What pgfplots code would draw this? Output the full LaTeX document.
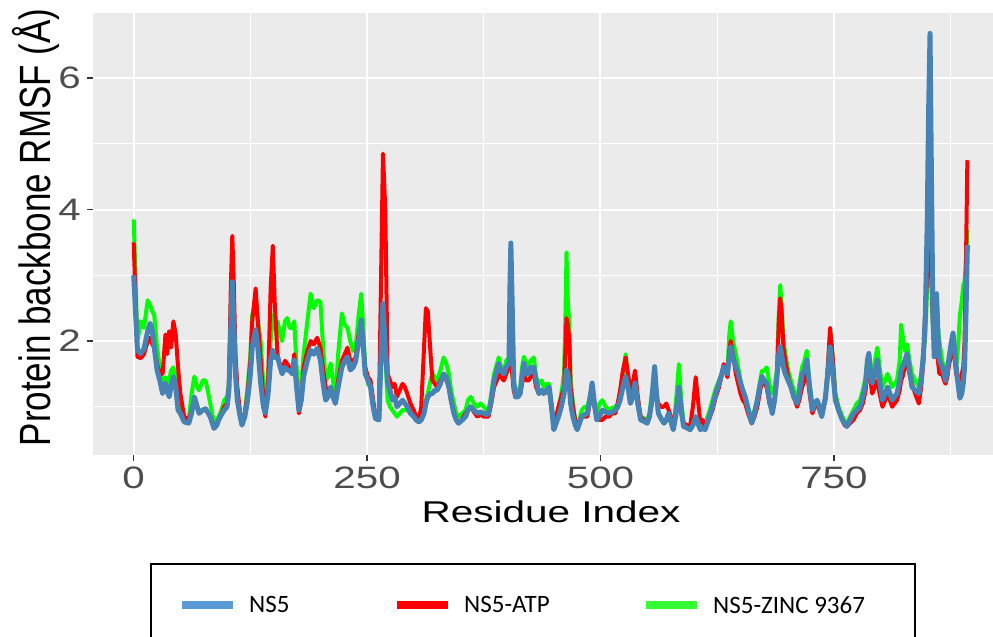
\documentclass[border=0pt]{standalone}
\usepackage{pgfplots}
\pgfplotsset{compat=1.18}
\usepackage{pgfplotstable}
\usepackage{graphicx}
\usepackage{fontspec}
\setmainfont{Liberation Sans}
\newfontfamily\legfont{Carlito}
\definecolor{panelgray}{HTML}{EBEBEB}
\definecolor{tickgray}{HTML}{4D4D4D}
\definecolor{tickmark}{HTML}{333333}
\definecolor{ns5blue}{HTML}{4682B4}
\definecolor{ns5legblue}{HTML}{5B9BD5}
\definecolor{atpred}{HTML}{FF0000}
\definecolor{zincgreen}{HTML}{00FF00}
\definecolor{zinclegreen}{HTML}{33FF33}

\pgfplotstableread{
x b r g
0 3.00 3.50 3.85
4 1.86 1.76 2.00
7.5 1.81 1.74 2.30
11 1.88 1.80 2.20
15 2.15 2.00 2.62
17.5 2.27 2.05 2.55
20 2.15 1.95 2.45
22 1.91 1.90 2.40
25 1.56 1.65 1.90
28 1.40 1.50 1.60
31 1.20 1.50 1.25
34 1.36 2.10 1.45
36 1.25 1.80 1.35
38 1.15 2.15 1.40
40 1.30 1.90 1.55
42.5 1.46 2.30 1.60
45 1.30 2.10 1.45
47.5 0.95 1.60 1.10
50 0.90 1.20 0.95
54 0.77 0.85 0.85
59 0.75 0.80 0.80
62 0.90 0.95 1.20
65 1.15 1.10 1.46
68 1.00 1.00 1.30
70 0.90 0.90 1.25
74 0.95 0.95 1.40
77 0.97 0.95 1.40
80 0.90 0.90 1.20
82 0.85 0.85 1.05
86 0.67 0.70 0.75
89 0.72 0.72 0.80
91 0.80 0.80 0.85
94 0.88 0.90 0.95
97 0.95 1.00 1.10
100 1.00 1.05 1.15
102 1.25 1.30 1.35
104 2.20 2.80 2.50
105.6 2.90 3.60 3.00
107 2.40 3.00 2.60
109 1.50 1.80 1.60
111 1.10 1.30 1.20
114 0.85 0.90 0.90
116 0.72 0.75 0.75
119 0.85 0.90 0.90
122 1.10 1.20 1.30
125 1.50 1.70 1.80
127 1.91 2.30 2.40
130.6 2.17 2.80 2.60
133 1.90 2.30 2.30
136 1.36 1.70 2.00
139 1.00 1.10 1.30
141 0.90 0.85 1.00
144 1.20 1.40 1.50
146.7 1.71 2.80 2.00
149 1.86 3.45 2.40
151 1.75 2.60 2.20
154 1.76 1.80 2.30
157 1.60 1.60 2.10
159 1.50 1.55 2.00
162 1.60 1.70 2.30
164.5 1.56 1.65 2.35
167 1.55 1.60 2.20
170 1.50 1.55 2.20
172 1.71 1.80 2.30
174.5 1.30 1.35 1.60
177 0.95 0.90 1.00
179.5 1.10 1.10 1.30
182 1.46 1.60 1.80
186 1.70 1.85 2.30
189.5 1.86 2.00 2.72
193 1.80 1.95 2.50
196.6 1.89 2.05 2.62
200 1.71 1.90 2.60
202.5 1.40 1.60 2.00
205.6 1.10 1.30 1.40
208 1.15 1.20 1.45
211 1.30 1.20 1.66
213.5 1.15 1.15 1.40
216 1.05 1.10 1.10
219 1.30 1.40 1.80
223 1.60 1.70 2.42
226 1.70 1.80 2.25
229 1.76 1.90 2.20
232 1.56 1.70 2.00
235 1.60 1.70 1.85
237.7 1.69 1.75 1.90
241 2.00 2.10 2.40
243.7 2.32 2.30 2.72
246 1.90 1.90 2.20
248 1.50 1.60 1.60
251 1.40 1.45 1.35
253.7 1.30 1.40 1.30
256.5 1.00 1.10 1.00
259 0.82 0.85 0.85
262.7 0.80 0.90 0.80
265 1.80 3.00 2.00
267 2.57 4.85 2.40
269.5 1.90 4.00 1.80
272 1.36 1.50 1.10
274.5 1.25 1.40 1.00
277 1.10 1.30 0.95
279.5 1.15 1.35 0.90
282 1.00 1.15 0.85
285 1.05 1.25 0.90
288 1.10 1.35 0.95
290.5 1.05 1.30 0.95
293 1.00 1.20 0.95
296.5 0.90 1.05 0.90
300 0.85 0.95 0.85
302.5 0.80 0.85 0.82
305.5 0.77 0.80 0.80
308 0.80 1.00 0.85
311 0.90 1.90 1.00
313 1.05 2.50 1.10
315 1.15 2.45 1.20
318 1.20 1.80 1.40
320 1.20 1.40 1.50
322.5 1.25 1.35 1.45
325 1.25 1.30 1.40
328.5 1.35 1.40 1.55
332 1.50 1.50 1.75
335 1.45 1.40 1.65
337.6 1.30 1.30 1.50
340 1.10 1.10 1.25
343 0.90 0.90 1.05
345.5 0.80 0.80 0.90
348 0.75 0.75 0.85
352 0.80 0.82 0.90
355.5 0.85 0.90 0.95
358 0.95 0.95 1.10
361 1.00 1.00 1.15
364.5 0.95 0.92 1.05
368 0.90 0.85 1.00
371.5 0.92 0.88 1.05
375 0.90 0.85 1.00
378 0.88 0.85 0.95
380 0.90 0.85 0.90
383 1.10 1.05 1.20
386 1.40 1.30 1.50
389 1.55 1.40 1.65
391 1.66 1.50 1.75
393.5 1.55 1.45 1.60
396.5 1.50 1.40 1.55
399 1.60 1.50 1.70
402 1.66 1.60 1.75
403 2.80 2.00 1.80
404 3.49 1.90 1.75
405.5 2.50 1.50 1.50
407 1.40 1.25 1.30
409 1.15 1.15 1.20
411.5 1.15 1.15 1.25
414 1.20 1.20 1.30
416 1.45 1.35 1.60
418 1.66 1.50 1.76
420.5 1.50 1.40 1.65
423 1.50 1.40 1.60
425 1.60 1.45 1.70
428.6 1.60 1.50 1.75
431 1.40 1.30 1.45
434 1.20 1.20 1.35
437 1.25 1.25 1.40
439 1.20 1.20 1.30
442 1.25 1.22 1.35
445 1.30 1.25 1.35
447.5 1.00 1.00 1.05
450 0.65 0.70 0.75
452.5 0.75 0.85 0.85
455 0.85 1.00 0.95
458 1.00 1.15 1.20
461 1.20 1.30 1.50
462.5 1.45 1.90 2.40
463.6 1.56 2.35 3.35
465 1.50 2.25 2.60
466.5 1.35 2.05 2.30
468 1.05 1.30 1.40
470.5 0.85 1.00 1.05
473 0.72 0.80 0.75
475 0.65 0.70 0.65
477.5 0.75 0.78 0.80
480 0.85 0.85 0.95
483 0.88 0.85 1.00
486 0.90 0.85 1.00
488.5 1.10 1.05 1.15
491 1.36 1.20 1.30
493.5 1.05 1.00 1.05
496 0.80 0.85 0.90
499 0.85 0.80 1.05
502 0.95 0.80 1.10
505.5 0.92 0.85 1.00
509 0.90 0.85 0.95
512.5 0.92 0.90 0.98
516 0.95 0.90 1.00
518.5 1.00 1.05 1.05
521 1.10 1.25 1.20
524 1.30 1.55 1.50
527 1.46 1.75 1.80
529.5 1.30 1.50 1.45
532 1.05 1.25 1.15
534.5 1.15 1.35 1.20
537 1.36 1.55 1.30
540 1.05 1.15 1.00
543 0.80 0.85 0.85
546.5 0.78 0.80 0.82
550 0.75 0.75 0.80
552.5 0.85 0.85 0.90
555 1.10 1.05 1.20
558 1.61 1.40 1.50
560 1.20 1.15 1.10
562 0.90 1.05 0.90
565 0.82 1.00 0.80
568 0.75 1.00 0.75
570.5 0.80 1.05 0.80
573 0.90 0.95 0.85
575.5 0.78 0.85 0.75
578 0.65 0.70 0.65
581 0.90 0.95 1.10
584 1.30 1.20 1.65
586.5 0.95 0.90 1.10
589 0.70 0.75 0.75
592.5 0.68 0.72 0.72
596 0.65 0.70 0.70
599 0.72 1.00 0.75
602 0.85 1.45 0.80
604.5 0.75 1.10 0.72
607 0.65 0.75 0.65
609.5 0.68 0.80 0.70
612 0.65 0.70 0.75
616 0.82 0.80 0.90
620 1.00 0.95 1.10
623.5 1.20 1.15 1.28
627 1.36 1.30 1.40
630 1.50 1.50 1.50
632 1.61 1.65 1.60
634 1.55 1.55 1.55
636 1.50 1.45 1.55
638 1.75 1.85 2.10
639.5 1.91 2.00 2.30
642 1.75 1.80 2.00
645 1.61 1.50 1.80
647.5 1.50 1.35 1.60
650 1.36 1.20 1.40
652.5 1.25 1.10 1.25
655 1.15 1.05 1.15
658.5 0.95 0.88 0.95
662 0.75 0.75 0.80
665 0.90 0.85 0.95
668 1.10 1.00 1.10
670.5 1.30 1.20 1.35
673 1.46 1.40 1.55
675.5 1.40 1.35 1.55
678 1.36 1.30 1.60
681 1.10 1.05 1.35
684 0.90 0.95 1.20
686.5 1.10 1.10 1.30
689 1.46 1.40 1.55
691 1.80 2.30 2.40
692.5 1.91 2.65 2.85
694 1.80 2.45 2.55
696 1.60 1.90 2.00
698 1.50 1.70 1.80
701 1.40 1.45 1.55
704 1.30 1.30 1.40
707 1.15 1.15 1.25
710.6 1.05 1.00 1.10
713 1.20 1.10 1.35
716 1.50 1.30 1.60
718.5 1.55 1.40 1.70
721 1.71 1.55 1.85
724 1.30 1.20 1.35
727 0.95 0.90 1.00
729.5 1.05 1.00 1.05
732 1.10 1.05 1.05
734.5 1.00 0.95 0.95
737 0.85 0.85 0.85
739 1.00 1.00 1.00
741 1.15 1.10 1.15
743.5 1.50 1.60 1.60
746 1.91 2.20 2.15
748.5 1.60 1.80 1.80
751.6 1.10 1.15 1.20
755 0.95 0.95 1.00
759 0.80 0.80 0.85
761.5 0.75 0.72 0.78
764 0.70 0.70 0.75
767.5 0.80 0.75 0.85
771 0.90 0.80 0.95
774.5 0.95 0.90 1.05
778 1.00 0.95 1.10
781 1.15 1.05 1.25
784 1.36 1.25 1.45
786 1.70 1.55 1.75
787.5 1.81 1.60 1.80
789 1.55 1.45 1.60
791 1.36 1.20 1.50
794 1.50 1.30 1.70
796.6 1.71 1.40 1.90
799 1.40 1.20 1.60
802 1.10 1.00 1.30
805 1.20 1.10 1.40
807.5 1.30 1.20 1.50
810 1.20 1.10 1.40
812.5 1.10 1.00 1.30
815 1.15 1.05 1.35
817.6 1.20 1.10 1.40
820.5 1.40 1.25 1.70
822 1.55 1.40 2.25
823.5 1.61 1.45 2.10
826 1.70 1.60 1.85
828.5 1.81 1.70 1.95
831 1.55 1.50 1.70
833.7 1.30 1.35 1.50
837 1.25 1.20 1.40
841 1.20 1.05 1.30
843.5 1.40 1.30 1.50
846 1.81 1.70 1.80
848 2.40 2.50 2.10
850 3.80 3.00 2.80
851.5 5.50 3.40 3.50
853 6.68 3.60 3.90
854.5 4.50 3.00 3.00
856 2.50 2.30 2.20
857.5 1.76 2.00 2.00
859 2.30 1.90 2.30
860 2.72 2.00 2.60
861.5 2.10 1.70 2.20
863 1.71 1.50 2.00
866 1.61 1.50 1.70
868 1.50 1.40 1.60
869.6 1.40 1.35 1.50
871.5 1.55 1.45 1.60
873 1.71 1.60 1.70
875.5 1.95 1.80 1.90
877.6 2.12 1.90 2.00
879.5 1.85 1.70 1.80
881 1.61 1.50 1.60
883 1.35 1.40 1.90
885 1.13 1.40 2.40
887 1.20 1.50 2.60
888.6 1.36 1.60 2.85
890 1.60 2.00 2.90
891.5 2.40 3.20 3.20
893 3.46 4.75 3.70
}\rmsf

\begin{document}
\begin{tikzpicture}
\useasboundingbox (0,0) rectangle (993pt,-637pt);
\clip (0,0) rectangle (993pt,-637pt);
\begin{axis}[
  at={(93pt,-13pt)}, anchor=north west,
  scale only axis, width=916pt, height=442pt,
  xmin=-43.6, xmax=937.6, ymin=0.266, ymax=6.99,
  axis background/.style={fill=panelgray},
  axis line style={draw=none},
  xtick pos=bottom, ytick pos=left,
  xtick={0,250,500,750},
  xticklabels={{\scalebox{1.3}[1]{0}},{\scalebox{1.3}[1]{250}},{\scalebox{1.3}[1]{500}},{\scalebox{1.3}[1]{750}}},
  ytick={2,4,6},
  yticklabels={{\scalebox{1.3}[1]{2}},{\scalebox{1.3}[1]{4}},{\scalebox{1.3}[1]{6}}},
  minor xtick={125,375,625,875}, minor ytick={1,3,5},
  grid=both,
  major grid style={white, line width=2pt},
  minor grid style={white, line width=1pt},
  tick align=outside, major tick length=6pt, minor tick length=0pt,
  tick style={tickmark, line width=1.5pt},
  ticklabel style={font=\fontsize{31}{31}\selectfont, text=tickgray, inner sep=0pt},
  xticklabel style={yshift=-6pt},
  yticklabel style={xshift=-6pt},
  xlabel={\scalebox{1.35}[1]{Residue Index}},
  xlabel style={font=\fontsize{30}{30}\selectfont, at={(axis description cs:0.5,-0.1538)}, anchor=base, inner sep=0pt},
  ylabel={\scalebox{1}[1.25]{Protein backbone RMSF (Å)}},
  ylabel style={font=\fontsize{35}{35}\selectfont, at={(axis description cs:-0.0469,0.515)}, anchor=base, inner sep=0pt},
  legend columns=3,
  legend cell align=left,
  legend image code/.code={\draw[#1] (0pt,0pt) -- (51pt,0pt);},
  legend style={at={(axis description cs:0.0622,-0.2443)}, anchor=north west,
    draw=black, line width=2.5pt, fill=white, inner xsep=27pt, inner ysep=32pt,
    font=\legfont\fontsize{25}{25}\selectfont, nodes={inner sep=0pt},
    /tikz/every odd column/.append style={column sep=12pt}},
]
\addplot[zincgreen, line width=4pt, line join=round, mark=none, forget plot] table[x=x, y=g] {\rmsf};
\addplot[atpred, line width=4pt, line join=round, mark=none, forget plot] table[x=x, y=r] {\rmsf};
\addplot[ns5blue, line width=5pt, line join=round, mark=none, forget plot] table[x=x, y=b] {\rmsf};
\addlegendimage{ns5legblue, line width=8pt}
\addlegendentry{\makebox[144pt][l]{NS5}}
\addlegendimage{atpred, line width=8pt}
\addlegendentry{\makebox[178pt][l]{NS5-ATP}}
\addlegendimage{zinclegreen, line width=8pt}
\addlegendentry{\makebox[175pt][l]{NS5-ZINC 9367}}
\end{axis}
\end{tikzpicture}
\end{document}
